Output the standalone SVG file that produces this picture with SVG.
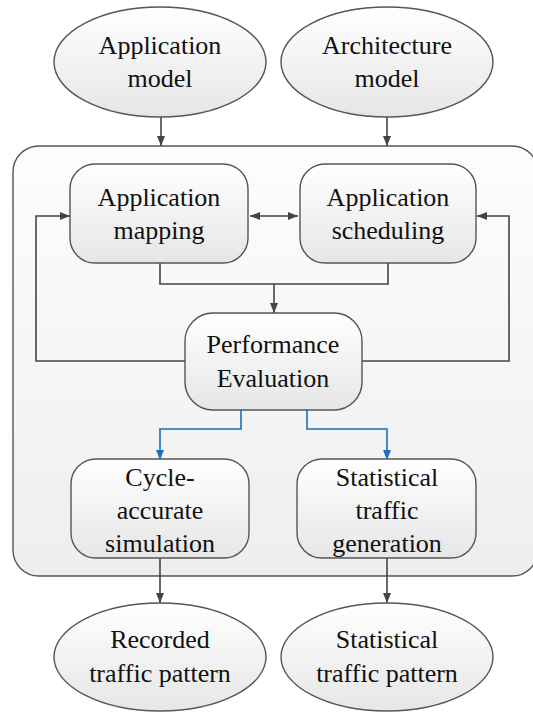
<svg xmlns="http://www.w3.org/2000/svg" width="533" height="713" viewBox="0 0 533 713">
<style>
.n{stroke:#555;stroke-width:1.4;fill:url(#g)}
.t{font-family:"Liberation Serif","Times New Roman",serif;font-size:26px;fill:#111;text-anchor:middle}
.c{fill:none;stroke:#444;stroke-width:1.6}
.b{fill:none;stroke:#1a6fc0;stroke-width:1.6}
</style>
<defs>
<linearGradient id="g" x1="0" y1="0" x2="0" y2="1">
<stop offset="0" stop-color="#ffffff"/><stop offset="1" stop-color="#e6e6e6"/>
</linearGradient>
<linearGradient id="g2" x1="0" y1="0" x2="0" y2="1">
<stop offset="0" stop-color="#fdfdfd"/><stop offset="1" stop-color="#eeeeee"/>
</linearGradient>
<marker id="a" viewBox="0 0 10 8" refX="10" refY="4" markerWidth="10" markerHeight="8" markerUnits="userSpaceOnUse" orient="auto-start-reverse"><path d="M0,0 L10,4 L0,8 Z" fill="#444"/></marker>
<marker id="ab" viewBox="0 0 10 8" refX="10" refY="4" markerWidth="10" markerHeight="8" markerUnits="userSpaceOnUse" orient="auto"><path d="M0,0 L10,4 L0,8 Z" fill="#1a6fc0"/></marker>
</defs>
<rect width="533" height="713" fill="#fff"/>
<g id="system"><rect x="13" y="146" width="525" height="430" rx="26" fill="url(#g2)" stroke="#555" stroke-width="1.4"/></g>
<g id="connectors">
<path class="c" d="M161,117 V146" marker-end="url(#a)"/>
<path class="c" d="M387,117 V146" marker-end="url(#a)"/>
<path class="c" d="M250,216 H298" marker-start="url(#a)" marker-end="url(#a)"/>
<path class="c" d="M185,361 H36 V216 H70" marker-end="url(#a)"/>
<path class="c" d="M362,361 H509 V216 H477" marker-end="url(#a)"/>
<path class="c" d="M160,263 V284 H388 V263"/>
<path class="c" d="M274,284 V313" marker-end="url(#a)"/>
<path class="b" d="M241,410 V429 H160 V460" marker-end="url(#ab)"/>
<path class="b" d="M307,410 V429 H387 V460" marker-end="url(#ab)"/>
<path class="c" d="M160,558 V603" marker-end="url(#a)"/>
<path class="c" d="M387,558 V603" marker-end="url(#a)"/>
</g>
<g id="app-model"><ellipse class="n" cx="160" cy="62" rx="106" ry="55"/><text class="t" x="160" y="54">Application</text><text class="t" x="160" y="87">model</text></g>
<g id="arch-model"><ellipse class="n" cx="387" cy="62" rx="106" ry="55"/><text class="t" x="387" y="54">Architecture</text><text class="t" x="387" y="87">model</text></g>
<g id="app-mapping"><rect class="n" x="70" y="164" width="178" height="99" rx="25"/><text class="t" x="159" y="206">Application</text><text class="t" x="159" y="239">mapping</text></g>
<g id="app-scheduling"><rect class="n" x="300" y="164" width="176" height="99" rx="25"/><text class="t" x="388" y="206">Application</text><text class="t" x="388" y="239">scheduling</text></g>
<g id="perf-eval"><rect class="n" x="185" y="313" width="177" height="97" rx="28"/><text class="t" x="273" y="353">Performance</text><text class="t" x="273" y="387">Evaluation</text></g>
<g id="cycle-sim"><rect class="n" x="71" y="459" width="178" height="99" rx="25"/><text class="t" x="160" y="486">Cycle-</text><text class="t" x="160" y="519">accurate</text><text class="t" x="160" y="552">simulation</text></g>
<g id="stat-gen"><rect class="n" x="297" y="459" width="179" height="99" rx="25"/><text class="t" x="387" y="486">Statistical</text><text class="t" x="387" y="519">traffic</text><text class="t" x="387" y="552">generation</text></g>
<g id="recorded"><ellipse class="n" cx="160" cy="657" rx="106" ry="54"/><text class="t" x="160" y="648">Recorded</text><text class="t" x="160" y="682">traffic pattern</text></g>
<g id="stat-pattern"><ellipse class="n" cx="387" cy="657" rx="106" ry="54"/><text class="t" x="387" y="648">Statistical</text><text class="t" x="387" y="682">traffic pattern</text></g>
</svg>
